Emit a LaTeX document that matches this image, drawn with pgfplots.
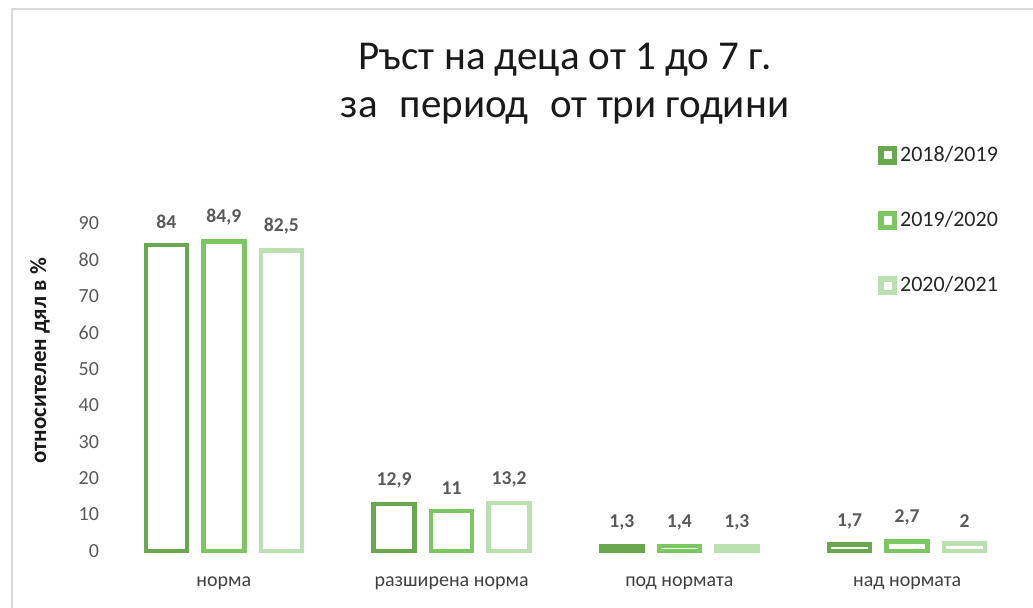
\documentclass[border=0pt]{standalone}
\usepackage{pgfplots}
\pgfplotsset{compat=1.18}
\usepackage{fontspec}
\setmainfont{Carlito}
\definecolor{gA}{HTML}{6AA84F}
\definecolor{gB}{HTML}{7BC862}
\definecolor{gC}{HTML}{BBE0AF}
\definecolor{lbl}{HTML}{595959}
\definecolor{txt}{HTML}{404040}
\definecolor{frame}{HTML}{D9D9D9}
\begin{document}
\begin{tikzpicture}
\useasboundingbox (-55pt,-28pt) rectangle (461.5pt,275.5pt);
\draw[frame, line width=1pt] (-49pt,-30pt) -- (-49pt,271pt) -- (465pt,271pt);
\begin{axis}[
    width=455.5pt, height=164pt, scale only axis,
    xmin=-0.5, xmax=3.5, ymin=0, ymax=90,
    ybar=8.25pt, bar width=20.5pt,
    axis line style={draw=none},
    major tick length=0pt,
    xtick=data,
    xticklabels={норма, разширена норма, под нормата, над нормата},
    ytick={0,10,...,90},
    /pgf/number format/assume math mode=true,
    /pgf/number format/use comma,
    yticklabel style={font=\fontsize{10}{12}\selectfont, color=lbl, xshift=-2pt},
    xticklabel style={font=\fontsize{10}{12}\selectfont, color=txt, yshift=-9.5pt},
    ylabel={относителен дял в \%},
    ylabel style={at={(axis description cs:0,0.58)}, anchor=center, yshift=35pt,
        font=\bfseries\fontsize{11.5}{13}\selectfont, color=black!90},
    clip=false,
    nodes near coords,
    every node near coord/.append style={font=\bfseries\fontsize{9.8}{11}\selectfont,
        color=lbl, anchor=south, yshift=3.5pt},
    legend style={at={(rel axis cs:0.843,1.245)}, anchor=north west, draw=none,
        fill=none, inner sep=0pt, font=\fontsize{11}{13}\selectfont,
        text=black!85, row sep=20.5pt, nodes={inner sep=1.5pt}},
    legend cell align=left,
    legend image code/.code={\draw[#1, line width=2.6pt, fill=white] (1pt,-3.4pt) rectangle (7.8pt,3.4pt);},
]
\addplot[draw=gA, fill=white, line width=2.35pt] coordinates {(0,84) (1,12.9) (2,1.3) (3,1.7)};
\addplot[draw=gB, fill=white, line width=2.35pt] coordinates {(0,84.9) (1,11) (2,1.4) (3,2.7)};
\addplot[draw=gC, fill=white, line width=2.35pt] coordinates {(0,82.5) (1,13.2) (2,1.3) (3,2)};
\legend{2018/2019, 2019/2020, 2020/2021}
\end{axis}
\node[anchor=base, font=\fontsize{20.5}{24}\selectfont, text=black!90] at (227.5pt,241pt) {Ръст на деца от 1 до 7 г.};
\node[anchor=base, font=\fontsize{20.5}{24}\selectfont, text=black!90] at (227.5pt,217pt) {за\hspace{11pt}период\hspace{11pt}от три години};
\end{tikzpicture}
\end{document}
